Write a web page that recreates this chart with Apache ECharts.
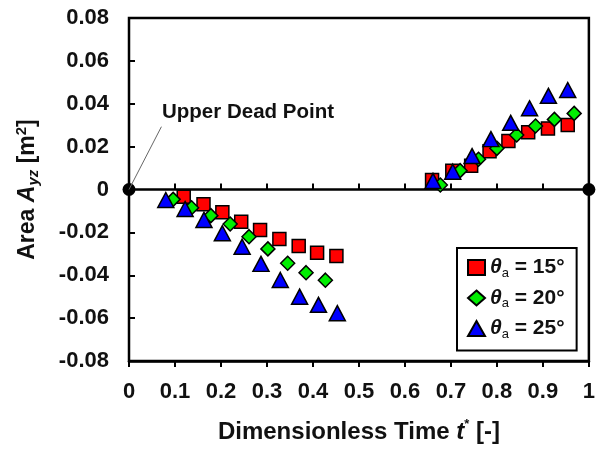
<!DOCTYPE html>
<html>
<head>
<meta charset="utf-8">
<script src="https://cdn.jsdelivr.net/npm/echarts@6/dist/echarts.min.js"></script>
<style>
  html, body { margin: 0; padding: 0; background: #fff; }
  #chart { width: 598px; height: 452px; }
</style>
</head>
<body>
<div id="chart"></div>
<script>
// Dimensionless time t* and swept area A_yz for three amplitude angles
const t15 = [0.119, 0.162, 0.203, 0.244, 0.285, 0.327, 0.369, 0.409, 0.451,
             0.659, 0.703, 0.744, 0.784, 0.825, 0.868, 0.911, 0.954];
const a15 = [-0.0034, -0.0069, -0.0106, -0.0150, -0.0189, -0.0231, -0.0263, -0.0295, -0.0310,
             0.0044, 0.0088, 0.0111, 0.0179, 0.0226, 0.0267, 0.0285, 0.0301];

const t20 = [0.096, 0.136, 0.178, 0.220, 0.261, 0.302, 0.345, 0.385, 0.427,
             0.677, 0.720, 0.760, 0.800, 0.843, 0.884, 0.925, 0.968];
const a20 = [-0.0046, -0.0085, -0.0122, -0.0161, -0.0220, -0.0277, -0.0344, -0.0388, -0.0423,
             0.0021, 0.0088, 0.0141, 0.0192, 0.0254, 0.0296, 0.0327, 0.0355];

const t25 = [0.080, 0.122, 0.163, 0.203, 0.246, 0.287, 0.329, 0.371, 0.412, 0.453,
             0.661, 0.704, 0.746, 0.787, 0.830, 0.871, 0.912, 0.954];
const a25 = [-0.0049, -0.0091, -0.0142, -0.0204, -0.0267, -0.0347, -0.0422, -0.0500, -0.0538, -0.0577,
             0.0040, 0.0083, 0.0156, 0.0235, 0.0311, 0.0379, 0.0437, 0.0464];

const angleNames = ['θa = 15°', 'θa = 20°', 'θa = 25°'];
const angleLabels = ['15°', '20°', '25°'];

// Leader line for the "Upper Dead Point" note, in data units
const deadPoint = [0, 0];
const noteAnchor = [0.0705, 0.0293];

const FONT = '"Liberation Sans", Arial, sans-serif';
const INK = '#111';

const pairs = (xs, ys) => xs.map((x, i) => [x, ys[i]]);

const chart = echarts.init(document.getElementById('chart'), null, { renderer: 'canvas' });

const xCommon = {
  type: 'value', min: 0, max: 1, interval: 0.1, gridIndex: 0,
  splitLine: { show: false }
};

const option = {
  animation: false,
  backgroundColor: '#fff',
  textStyle: { fontFamily: FONT },
  grid: {
    left: 129, right: 5, top: 18, bottom: 91,
    show: true, borderColor: '#000', borderWidth: 2.5, backgroundColor: 'transparent'
  },
  xAxis: [
    Object.assign({}, xCommon, {
      position: 'bottom',
      axisLine: { show: false, onZero: false },
      axisTick: { show: false },
      axisLabel: {
        margin: 20, color: INK, fontSize: 22, fontWeight: 'bold', fontFamily: FONT,
        formatter: v => (Math.abs(v) < 1e-9 ? '0' : Math.abs(v - 1) < 1e-9 ? '1' : v.toFixed(1))
      },
      name: '{b|Dimensionless Time }{i|t}{p|*}{b| [-]}',
      nameLocation: 'middle',
      nameGap: 57,
      nameTextStyle: {
        rich: {
          b: { fontSize: 24, fontWeight: 'bold', color: INK, fontFamily: FONT, lineHeight: 28 },
          i: { fontSize: 24, fontWeight: 'bold', fontStyle: 'italic', color: INK, fontFamily: FONT, lineHeight: 28 },
          p: { fontSize: 13, fontWeight: 'bold', color: INK, fontFamily: FONT, verticalAlign: 'top', lineHeight: 28 }
        }
      }
    }),
    // zero line, upper half of the tick marks, end dots
    Object.assign({}, xCommon, {
      position: 'bottom',
      axisLine: {
        show: true, onZero: true,
        lineStyle: { color: '#000', width: 2.5 },
        symbol: ['circle', 'circle'], symbolSize: [13, 13]
      },
      axisTick: { show: true, inside: true, length: 6, lineStyle: { color: '#000', width: 2 } },
      axisLabel: { show: false }
    }),
    // lower half of the tick marks on the zero line
    Object.assign({}, xCommon, {
      position: 'bottom',
      axisLine: { show: true, onZero: true, lineStyle: { color: '#000', width: 2.5 } },
      axisTick: { show: true, inside: false, length: 6, lineStyle: { color: '#000', width: 2 } },
      axisLabel: { show: false }
    })
  ],
  yAxis: {
    type: 'value', min: -0.08, max: 0.08, interval: 0.02,
    position: 'left',
    axisLine: { show: false, onZero: false },
    axisTick: { show: true, inside: true, length: 6, lineStyle: { color: '#000', width: 2 } },
    splitLine: { show: false },
    axisLabel: {
      margin: 20, color: INK, fontSize: 22, fontWeight: 'bold', fontFamily: FONT,
      formatter: v => (Math.abs(v) < 1e-9 ? '0' : v.toFixed(2))
    },
    name: '{b|Area }{i|A}{s|yz}{b| [m}{p|2}{b|]}',
    nameLocation: 'middle',
    nameGap: 88,
    nameRotate: 90,
    nameTextStyle: {
      rich: {
        b: { fontSize: 23, fontWeight: 'bold', color: INK, fontFamily: FONT, lineHeight: 27 },
        i: { fontSize: 23, fontWeight: 'bold', fontStyle: 'italic', color: INK, fontFamily: FONT, lineHeight: 27 },
        s: { fontSize: 15, fontWeight: 'bold', fontStyle: 'italic', color: INK, fontFamily: FONT, verticalAlign: 'bottom', lineHeight: 27 },
        p: { fontSize: 15, fontWeight: 'bold', color: INK, fontFamily: FONT, verticalAlign: 'top', lineHeight: 27 }
      }
    }
  },
  legend: {
    data: angleNames,
    orient: 'vertical',
    left: 457, top: 248,
    padding: [9, 12, 10, 10],
    itemGap: 8,
    itemWidth: 17, itemHeight: 15,
    borderColor: '#000', borderWidth: 2,
    backgroundColor: '#fff',
    selectedMode: false,
    formatter: name => '{g|θ}{s|a}{n| = ' + angleLabels[angleNames.indexOf(name)] + '}',
    textStyle: {
      rich: {
        g: { fontSize: 21, fontWeight: 'bold', fontStyle: 'italic', color: INK, fontFamily: FONT, lineHeight: 24 },
        s: { fontSize: 13, color: INK, fontFamily: FONT, verticalAlign: 'bottom', lineHeight: 24 },
        n: { fontSize: 21, fontWeight: 'bold', color: INK, fontFamily: FONT, lineHeight: 24 }
      }
    }
  },
  graphic: [{
    type: 'text', left: 162, top: 102, silent: true,
    style: { text: 'Upper Dead Point', fill: INK, font: 'bold 20.5px ' + FONT }
  }],
  series: [
    {
      name: angleNames[0], type: 'scatter', symbol: 'rect', symbolSize: 13,
      itemStyle: { color: '#ff0000', borderColor: '#000', borderWidth: 1.5, opacity: 1 },
      data: pairs(t15, a15),
      markLine: {
        silent: true, symbol: ['none', 'none'], label: { show: false },
        lineStyle: { color: '#666', width: 1, type: 'solid' },
        data: [[{ coord: deadPoint }, { coord: noteAnchor }]]
      },
      z: 3
    },
    {
      name: angleNames[1], type: 'scatter', symbol: 'diamond', symbolSize: 14,
      itemStyle: { color: '#00ee00', borderColor: '#000', borderWidth: 1.5, opacity: 1 },
      data: pairs(t20, a20),
      z: 4
    },
    {
      name: angleNames[2], type: 'scatter', symbol: 'triangle', symbolSize: [16, 15],
      itemStyle: { color: '#0000ff', borderColor: '#000', borderWidth: 1.5, opacity: 1 },
      data: pairs(t25, a25),
      z: 5
    }
  ]
};

chart.setOption(option);
</script>
</body>
</html>
